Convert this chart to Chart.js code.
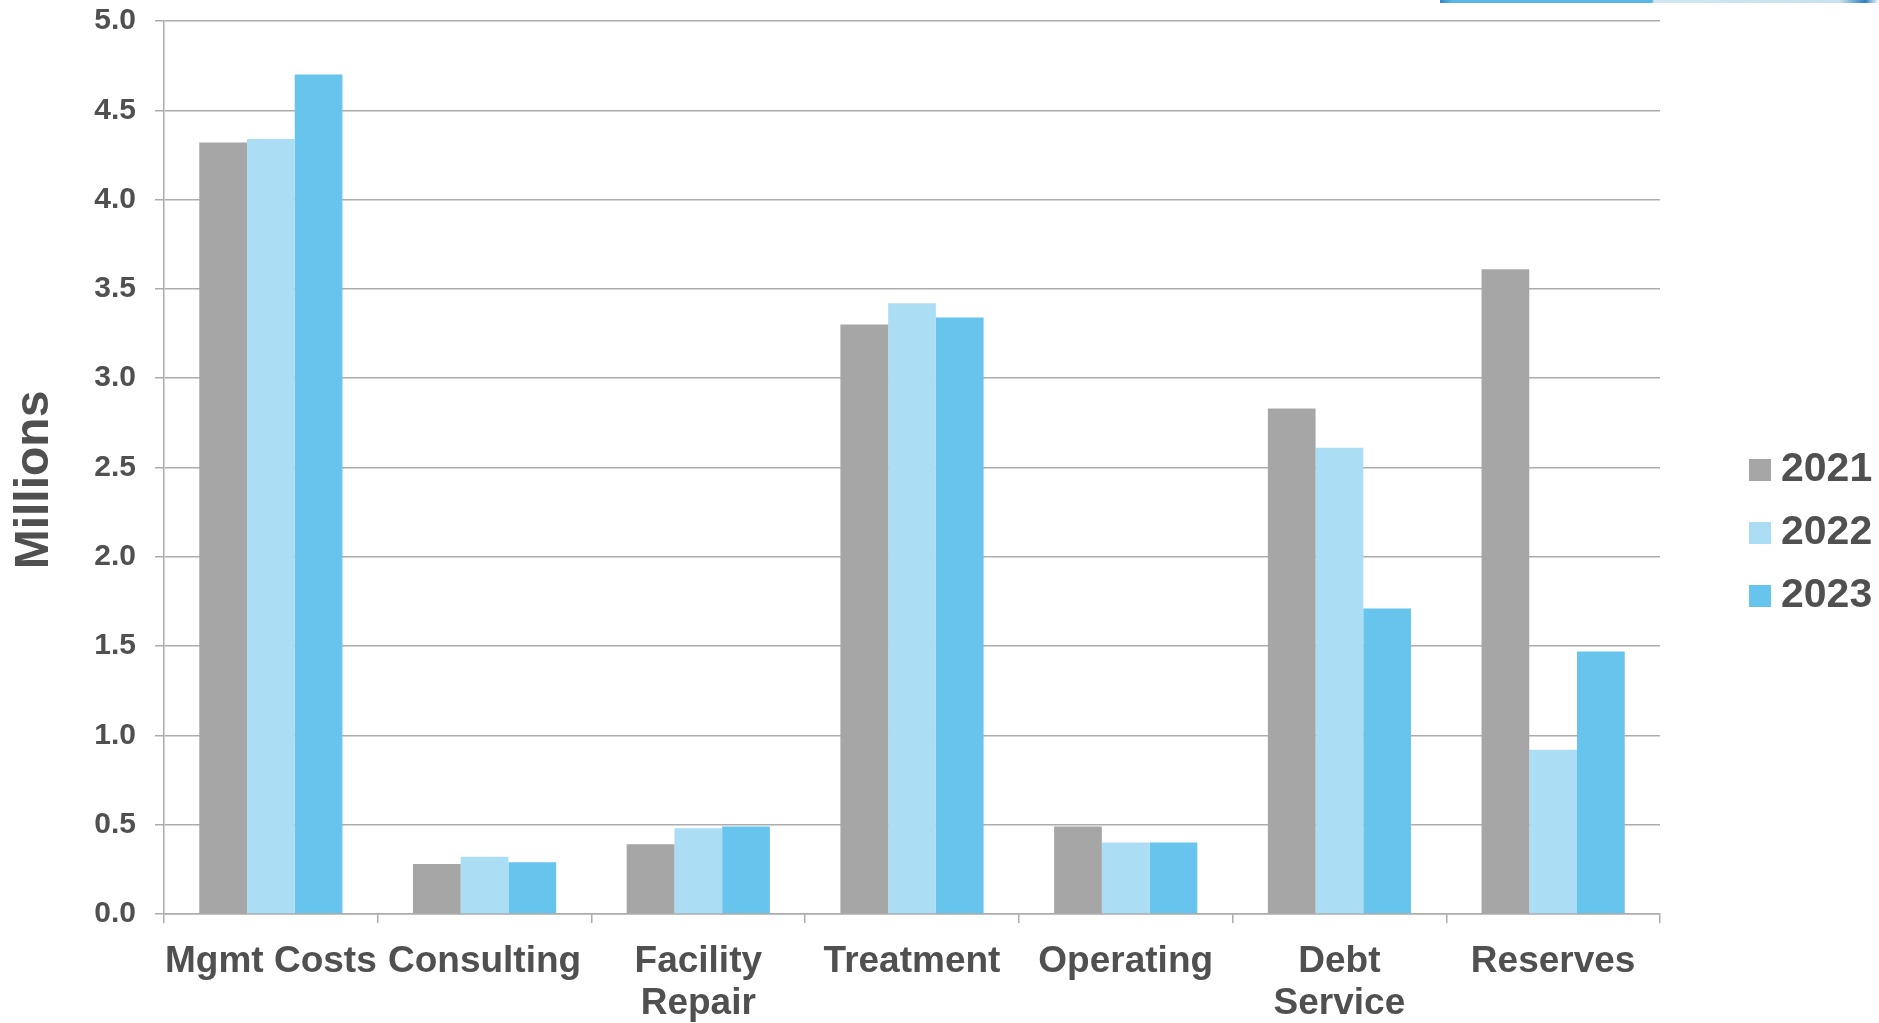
<!DOCTYPE html>
<html>
<head>
<meta charset="utf-8">
<script src="https://cdn.jsdelivr.net/npm/chart.js@4.4.1/dist/chart.umd.min.js"></script>
<style>
  html, body { margin: 0; padding: 0; background: #ffffff; }
  #wrap { position: relative; width: 1879px; height: 1023px; }
  #deco { position: absolute; top: 0; left: 1440px; width: 439px; height: 3px;
    background: linear-gradient(90deg, #2f86c8 0px, #5bb6e8 12px, #5bb6e8 212px, #cfe8f3 214px, #c4e2ef 400px, #2f7fc0 425px, #ffffff 439px); }
</style>
</head>
<body>
<div id="wrap">
  <canvas id="c" width="1879" height="1023"></canvas>
  <div id="deco"></div>
</div>
<script>
const categories = ['Mgmt Costs', 'Consulting', ['Facility', 'Repair'], 'Treatment', 'Operating', ['Debt', 'Service'], 'Reserves'];
const seriesNames = ['2021', '2022', '2023'];
const values2021 = [4.32, 0.28, 0.39, 3.30, 0.49, 2.83, 3.61];
const values2022 = [4.34, 0.32, 0.48, 3.42, 0.40, 2.61, 0.92];
const values2023 = [4.70, 0.29, 0.49, 3.34, 0.40, 1.71, 1.47];
const yTicks = [0, 0.5, 1.0, 1.5, 2.0, 2.5, 3.0, 3.5, 4.0, 4.5, 5.0];
const yTitle = 'Millions';

const colors = ['#a6a6a6', '#abdef4', '#67c4ed'];
const textColor = '#505050';
const fontFamily = '"Liberation Sans", Arial, Helvetica, sans-serif';
const gridColor = '#acacac';

const sideLegend = {
  id: 'sideLegend',
  afterDraw(chart, args, opts) {
    const ctx = chart.ctx;
    ctx.save();
    ctx.font = 'bold ' + opts.fontSize + 'px ' + fontFamily;
    ctx.textBaseline = 'middle';
    ctx.textAlign = 'left';
    chart.data.datasets.forEach((ds, i) => {
      const cy = opts.y + i * opts.spacing;
      ctx.fillStyle = ds.backgroundColor;
      ctx.fillRect(opts.x, cy - opts.box / 2, opts.box, opts.box);
      ctx.fillStyle = textColor;
      ctx.fillText(ds.label, opts.x + opts.box + opts.gap, cy);
    });
    ctx.restore();
  }
};

const axisTitle = {
  id: 'axisTitle',
  afterDraw(chart, args, opts) {
    const ctx = chart.ctx;
    ctx.save();
    ctx.translate(opts.x, opts.y);
    ctx.rotate(-Math.PI / 2);
    ctx.font = 'bold ' + opts.fontSize + 'px ' + fontFamily;
    ctx.fillStyle = textColor;
    ctx.textAlign = 'center';
    ctx.textBaseline = 'middle';
    ctx.fillText(opts.text, 0, 0);
    ctx.restore();
  }
};

new Chart(document.getElementById('c'), {
  type: 'bar',
  data: {
    labels: categories,
    datasets: [
      { label: seriesNames[0], data: values2021, backgroundColor: colors[0] },
      { label: seriesNames[1], data: values2022, backgroundColor: colors[1] },
      { label: seriesNames[2], data: values2023, backgroundColor: colors[2] }
    ]
  },
  options: {
    responsive: false,
    animation: false,
    layout: { padding: { top: 0, right: 219, left: 0, bottom: 0 } },
    datasets: { bar: { categoryPercentage: 0.67, barPercentage: 1.0, borderWidth: 0 } },
    plugins: {
      legend: { display: false },
      tooltip: { enabled: false },
      sideLegend: { x: 1749, y: 470, spacing: 63, box: 22, gap: 10, fontSize: 41 },
      axisTitle: { text: yTitle, x: 35, y: 480, fontSize: 48 }
    },
    scales: {
      x: {
        grid: { display: true, drawOnChartArea: false, drawTicks: true, tickLength: 9, color: gridColor, lineWidth: 1.5, offset: true },
        border: { display: true, color: gridColor, width: 1.5 },
        ticks: {
          color: textColor, padding: 18, maxRotation: 0, autoSkip: false,
          font: { family: fontFamily, size: 37, weight: 'bold', lineHeight: 1.14 }
        },
        afterFit(scale) { scale.height = 109; }
      },
      y: {
        min: 0, max: 5,
        afterBuildTicks(scale) { scale.ticks = yTicks.map(v => ({ value: v })); },
        grid: { color: gridColor, lineWidth: 1.5, tickLength: 9, drawTicks: true },
        border: { display: true, color: gridColor, width: 1.5 },
        ticks: {
          color: textColor, padding: 19,
          font: { family: fontFamily, size: 30, weight: 'bold' },
          callback: (v) => Number(v).toFixed(1)
        },
        title: { display: false },
        afterFit(scale) { scale.width = 164; scale.paddingTop = 21; scale.paddingBottom = 0; }
      }
    }
  },
  plugins: [sideLegend, axisTitle]
});
</script>
</body>
</html>
